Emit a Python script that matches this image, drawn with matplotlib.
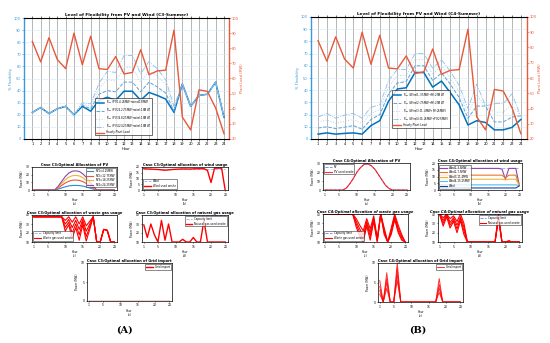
import numpy as np
import matplotlib.pyplot as plt

hours = np.arange(1, 25)

# ---- main charts: flexibility (%) and hourly plant load (MW)
plant_load = [84.5, 71, 87, 72.5, 66.5, 90, 69, 88, 66.5, 66, 74.5, 63, 64, 79,
              62.5, 65, 65.5, 92, 34.5, 26, 52.5, 51.5, 40.5, 23.5]

flex_c3_1 = [22, 26, 21, 25, 27, 20, 27, 23, 32, 34.5, 32, 39.5, 39.5, 32, 38.5, 36,
             33, 22, 45.5, 27, 36, 37, 47, 18]
flex_c3_2 = [22, 26, 21, 25, 27, 20, 28, 25, 37, 40, 39, 47, 47, 39, 47, 43,
             38, 23, 45.5, 27, 36, 37, 47, 18]
flex_c3_3 = [22, 26, 21, 25, 27, 20, 29, 27, 42, 49, 48, 59, 59, 47, 56, 52,
             45, 25, 45.5, 27, 36, 37, 47, 18]
flex_c3_4 = [22, 26, 21, 25, 27, 20, 30, 29, 46, 56, 55, 69, 69, 54, 64, 58,
             49, 27, 45.5, 27, 36, 37, 47, 18]
labels_c3 = ["P$_{flex}$ (PV1:4.25MW+wind:18MW)", "P$_{flex}$ (PV2:12.75MW+wind:18MW)",
             "P$_{flex}$ (PV3:18.25MW+wind:18MW)", "P$_{flex}$ (PV4:24.25MW+wind:18MW)"]

flex_c4_1 = [4, 5, 4, 4.6, 5, 4, 11, 15, 31, 41, 42, 54.5, 54.5, 42.5, 47.5, 38,
             28, 11.5, 15, 13.5, 7.5, 7.5, 9.5, 16]
flex_c4_2 = [9, 10, 8.5, 9.7, 11, 8, 16, 20, 37, 46, 47, 60, 60, 48, 54, 45,
             34, 17, 27, 27, 14, 14, 18, 19]
flex_c4_3 = [14, 15.5, 13, 14.5, 16, 12.5, 21, 24, 43, 52, 52, 65, 65, 53, 60, 50,
             39, 21, 36, 27, 22, 22, 28, 19]
flex_c4_4 = [18, 21, 17, 19.5, 21, 17, 26, 28, 48, 57, 57, 70, 70, 58, 65, 55.5,
             44, 25, 45, 27, 29, 29, 37, 18.5]
labels_c4 = ["P$_{flex}$ (Wind1:3.5MW+PV:25MW)", "P$_{flex}$ (Wind2:7.5MW+PV:25MW)",
             "P$_{flex}$ (Wind3:11.4MW+PV:25MW)", "P$_{flex}$ (Wind4:15.25MW+PV:25MW)"]

# ---- case C3 small panels
pv_c3_1 = [0, 0, 0, 0, 0, 0, 0, 1.2, 2.7, 4.2, 5.3, 5.9, 6, 5.8, 5.1, 4, 2.6, 1.2, 0, 0, 0, 0, 0, 0]
pv_c3_2 = [0, 0, 0, 0, 0, 0, 0, 2.6, 5.9, 9.1, 11.4, 12.7, 13, 12.6, 11, 8.7, 5.6, 2.6, 0, 0, 0, 0, 0, 0]
pv_c3_3 = [0, 0, 0, 0, 0, 0, 0, 3.8, 8.6, 13.3, 16.7, 18.6, 19, 18.4, 16.2, 12.7, 8.2, 3.8, 0, 0, 0, 0, 0, 0]
pv_c3_4 = [0, 0, 0, 0, 0, 0, 0, 5, 11.3, 17.5, 22, 24.5, 25, 24.2, 21.2, 16.7, 10.8, 5, 0, 0, 0, 0, 0, 0]
pv_c3_labels = ["PV1=4.25MW", "PV2=12.75MW", "PV3=18.25MW", "PV4=24.25MW"]

wind_c3 = [18] * 24
wind_used_c3 = [18.5, 18.3, 18.2, 18, 17.8, 17.5, 17.2, 17.5, 17.8, 18, 18.2, 18.3, 18.3,
                18.2, 18.4, 18.5, 18.5, 18.6, 17, 6.5, 19, 19, 19, 0]

gas_cap = [40] * 24
waste_c3_1 = [38, 38, 38, 38, 38, 38, 38, 38, 38, 34, 38, 32, 38, 30, 38, 28, 33, 38, 10, 10, 24, 23, 10, 10]
waste_c3_2 = [38, 38, 38, 38, 38, 38, 38, 38, 38, 30, 35, 26, 34, 24, 35, 22, 30, 38, 10, 10, 24, 23, 10, 10]
waste_c3_3 = [38, 38, 38, 38, 38, 38, 38, 38, 38, 26, 32, 20, 30, 18, 32, 16, 27, 38, 10, 10, 24, 23, 10, 10]
waste_c3_4 = [38, 38, 38, 38, 38, 38, 38, 38, 38, 22, 29, 14, 26, 12, 29, 11, 24, 38, 10, 10, 24, 23, 10, 10]

natgas_c3 = [29, 15, 30, 18, 10, 34, 12, 30, 10, 10, 10, 13, 10, 10, 15, 10, 10, 34,
             10, 10, 10, 10, 10, 10]
grid_c3 = [0] * 24

# ---- case C4 small panels
pv_c4 = [0, 0, 0, 0, 0, 0, 2, 7, 13, 20, 25, 28.5, 29, 27, 23, 17, 11, 5, 1.5, 0, 0, 0, 0, 0]

wind_c4_cap = [16.5] * 24
wind_c4_1 = [1.5] * 23 + [3]
wind_c4_2 = [3.8] * 23 + [3.3]
wind_c4_3 = [8, 8, 8, 8, 8, 8, 8, 8, 8, 8, 8, 8, 8, 8, 8, 8, 8, 8, 8, 7.5, 8, 8, 8, 3.5]
wind_c4_4 = [11, 11, 11, 11, 11, 11, 11, 11, 11, 11, 11, 11, 11, 11, 11, 11, 11, 11, 11, 9, 11, 11, 11, 3.5]
wind_c4_5 = [16, 16, 16, 16, 16, 16, 16, 16, 16, 16, 16, 16, 16, 16, 16, 16, 16, 16, 15.5, 8, 16, 16, 16, 4]
wind_c4_labels = ["Wind1-3.5MW", "Wind2-7.5MW", "Wind3-11.4MW", "Wind4-15.25MW", "Wind"]

waste_c4_1 = [40, 40, 40, 40, 40, 40, 40, 40, 40, 35, 28, 22, 35, 24, 38, 14, 40, 25, 10, 25, 40, 28, 18, 10]
waste_c4_2 = [40, 40, 40, 40, 40, 40, 40, 40, 40, 32, 24, 17, 32, 20, 36, 12, 40, 22, 10, 22, 38, 25, 16, 10]
waste_c4_3 = [40, 40, 40, 40, 40, 40, 40, 40, 40, 29, 20, 13, 30, 16, 34, 11, 40, 20, 10, 20, 36, 22, 14, 10]
waste_c4_4 = [40, 40, 40, 40, 40, 40, 40, 40, 40, 26, 16, 10, 27, 12, 32, 10, 40, 18, 10, 18, 34, 20, 12, 10]

natgas_c4_1 = [40, 36, 40, 35, 38, 32, 40, 30, 10, 10, 10, 10, 10, 10, 10, 10, 10, 40, 10, 10, 11, 10, 10, 10]
natgas_c4_2 = [40, 33, 40, 31, 36, 28, 37, 26, 10, 10, 10, 10, 10, 10, 10, 10, 10, 38, 10, 10, 11, 10, 10, 10]
natgas_c4_3 = [40, 30, 39, 28, 34, 24, 35, 22, 10, 10, 10, 10, 10, 10, 10, 10, 10, 36, 10, 10, 11, 10, 10, 10]
natgas_c4_4 = [39, 27, 37, 25, 32, 20, 33, 18, 10, 10, 10, 10, 10, 10, 10, 10, 10, 34, 10, 10, 11, 10, 10, 10]

grid_c4_1 = [5.5, 0, 7.5, 0, 0, 10, 0, 0, 0, 0, 0, 0, 0, 0, 0, 0, 0, 6, 0, 0, 0, 0, 0, 0]
grid_c4_2 = [4, 0, 6, 0, 0, 8.5, 0, 0, 0, 0, 0, 0, 0, 0, 0, 0, 0, 4.5, 0, 0, 0, 0, 0, 0]
grid_c4_3 = [3, 0, 5, 0, 0, 7, 0, 0, 0, 0, 0, 0, 0, 0, 0, 0, 0, 3.5, 0, 0, 0, 0, 0, 0]
grid_c4_4 = [2, 0, 3.5, 0, 0, 5.5, 0, 0, 0, 0, 0, 0, 0, 0, 0, 0, 0, 2.5, 0, 0, 0, 0, 0, 0]

W, H = 550, 343
BLUE = '#0072BD'
ORANGE = '#E8583A'
FS = 2.6

fig = plt.figure(figsize=(5.5, 3.43), dpi=100)


def box(x0, y0, x1, y1):
    # pixel box -> figure fraction rect
    return fig.add_axes([x0 / W, 1 - y1 / H, (x1 - x0) / W, (y1 - y0) / H])


def main_chart(rect, flex, labels, title, xlim, legpos):
    ax = box(*rect)
    styles = [dict(color=BLUE, lw=1.1, ls='-'),
              dict(color='#5AA3DC', lw=0.7, ls='--'),
              dict(color='#B3D4F0', lw=0.7, ls=':'),
              dict(color='#8DBDE8', lw=0.6, ls='-.')]
    handles = []
    for vals, lab, st in zip(flex, labels, styles):
        h, = ax.plot(hours, vals, label=lab, **st)
        handles.append(h)
    ax.set_ylim(0, 100)
    ax.set_xlim(*xlim)
    ax.set_yticks(np.arange(0, 101, 10))
    ax.set_xticks(hours)
    ax.tick_params(labelsize=FS, length=1.2, width=0.4, pad=1, top=True)
    ax.tick_params(axis='y', colors='#3A9AD9')
    ax.grid(True, axis='x', color='#9a9a9a', lw=0.5)
    ax.grid(True, axis='y', color='#d5e6f3', lw=0.4)
    ax.set_ylabel('% Flexibility', fontsize=FS, color='#3A9AD9', labelpad=1)
    ax.set_xlabel('Hour', fontsize=FS, labelpad=1)
    ax.set_title(title, fontsize=3.1, fontweight='bold', pad=1.5)
    ax.spines['left'].set_color('#3A9AD9')
    ax.spines['left'].set_linewidth(1.0)
    ax.spines['right'].set_visible(False)
    for s in ('top', 'bottom'):
        ax.spines[s].set_linewidth(0.4)
    ax2 = ax.twinx()
    h, = ax2.plot(hours, plant_load, color=ORANGE, lw=1.0, label='Hourly Plant Load')
    handles.append(h)
    ax2.set_ylim(20, 100)
    ax2.set_yticks(np.arange(20, 101, 10))
    ax2.tick_params(labelsize=FS, length=1.2, width=0.4, pad=1, colors=ORANGE)
    ax2.set_ylabel('Plant Load (MW)', fontsize=FS, color=ORANGE, labelpad=1)
    ax2.spines['right'].set_color(ORANGE)
    ax2.spines['right'].set_linewidth(1.0)
    ax2.spines['left'].set_visible(False)
    leg = ax2.legend(handles=handles, fontsize=1.9, loc='lower left', bbox_to_anchor=legpos,
                     frameon=True, fancybox=False, edgecolor='black', handlelength=3,
                     borderpad=0.3, labelspacing=0.15)
    leg.get_frame().set_linewidth(0.5)


def small(rect, title, ylim, yticks, letter, italic=False):
    ax = box(*rect)
    ax.set_xlim(0.5, 24.8)
    ax.set_ylim(*ylim)
    ax.set_xticks([1, 5, 10, 15, 20, 24])
    ax.set_yticks(yticks)
    ax.tick_params(labelsize=2.2, length=1, width=0.4, pad=0.8)
    for s in ax.spines.values():
        s.set_linewidth(0.5)
    ax.set_title(title, fontsize=2.6, fontweight='bold', pad=1,
                 style='italic' if italic else 'normal')
    ax.set_ylabel('Power (MW)', fontsize=2.0, labelpad=1)
    ax.set_xlabel('Hour\n' + letter, fontsize=2.0, labelpad=0.8)
    return ax


def small_legend(ax, loc):
    leg = ax.legend(fontsize=1.9, loc=loc, frameon=True, fancybox=False, edgecolor='black',
                    handlelength=2.5, borderpad=0.3, labelspacing=0.2)
    leg.get_frame().set_linewidth(0.4)


main_chart((24, 18, 229, 139), [flex_c3_1, flex_c3_2, flex_c3_3, flex_c3_4], labels_c3,
           'Level of Flexibility from PV and Wind (C3-Summer)', (0.0, 24.6), (0.34, 0.02))
main_chart((311, 17, 527, 139), [flex_c4_1, flex_c4_2, flex_c4_3, flex_c4_4], labels_c4,
           'Level of Flexibility from PV and Wind (C4-Summer)', (0.2, 24.7), (0.37, 0.08))

# ---- C3 panels
ax = small((32, 167, 117, 190), 'Case C3:Optimal Allocation of PV', (0, 30), [0, 10, 20, 30], '(a)')
for vals, lab, c in zip([pv_c3_1, pv_c3_2, pv_c3_3, pv_c3_4], pv_c3_labels,
                        ['#2E8BD0', '#E8583A', '#F2B134', '#8E44AD']):
    ax.plot(hours, vals, color=c, lw=0.8, label=lab)
small_legend(ax, 'upper right')

ax = small((142, 167, 228, 190), 'Case C3:Optimal allocation of wind usage', (0, 20), [0, 5, 10, 15, 20], '(b)')
ax.plot(hours, wind_c3, color='#9FA8F0', lw=0.6, ls='--', label='Wind')
ax.plot(hours, wind_used_c3, color='red', lw=1.0, label='Wind used onsite')
small_legend(ax, 'lower left')

ax = small((32, 215, 117, 242), 'Case C3:Optimal allocation of waste gas usage', (10, 40), [10, 20, 30, 40], '(c)')
ax.plot(hours, gas_cap, color='#9FA8F0', lw=0.6, ls='--', label='Capacity limit')
for i, vals in enumerate([waste_c3_1, waste_c3_2, waste_c3_3, waste_c3_4]):
    ax.plot(hours, vals, color='red', lw=0.8, label='Waste gas used onsite' if i == 0 else None)
small_legend(ax, 'lower left')

ax = small((142, 215, 228, 242), 'Case C3:Optimal allocation of natural gas usage', (10, 40), [10, 20, 30, 40], '(d)')
ax.plot(hours, gas_cap, color='#9FA8F0', lw=0.6, ls='--', label='Capacity limit')
ax.plot(hours, natgas_c3, color='red', lw=1.0, label='Natural gas used onsite')
small_legend(ax, 'upper right')

ax = small((87, 263, 172, 301), 'Case C3:Optimal allocation of Grid import', (0, 10), [0, 5, 10], '(e)')
ax.plot(hours, grid_c3, color='red', lw=1.0, label='Grid import')
small_legend(ax, 'upper right')

# ---- C4 panels
ax = small((323, 163, 410, 190), 'Case C4:Optimal Allocation of PV', (0, 30), [0, 10, 20, 30], '(a)')
ax.plot(hours, pv_c4, color='#6C7FE0', lw=0.6, ls='--', label='PV')
ax.plot(hours, pv_c4, color='red', lw=0.8, alpha=0.8, label='PV used onsite')
small_legend(ax, 'upper left')

ax = small((438, 163, 522, 190), 'Case C4:Optimal allocation of wind usage', (0, 20), [0, 5, 10, 15, 20], '(b)')
ax.plot(hours, wind_c4_cap, color='#9FA8F0', lw=0.6, ls='--')
for vals, lab, c in zip([wind_c4_5, wind_c4_4, wind_c4_3, wind_c4_2, wind_c4_1], wind_c4_labels,
                        ['#8E44AD', '#E8742A', '#F2B134', '#4DBEEE', '#1F3F9F']):
    ax.plot(hours, vals, color=c, lw=0.8, label=lab)
small_legend(ax, 'lower left')

ax = small((323, 214, 408, 242), 'Case C4:Optimal allocation of waste gas usage', (10, 40), [10, 20, 30, 40], '(c)', True)
ax.plot(hours, gas_cap, color='#6C7FE0', lw=0.6, ls='--', label='Capacity limit')
for i, vals in enumerate([waste_c4_1, waste_c4_2, waste_c4_3, waste_c4_4]):
    ax.plot(hours, vals, color='red', lw=0.8, label='Waste gas used onsite' if i == 0 else None)
small_legend(ax, 'lower left')

ax = small((438, 214, 522, 242), 'Case C4:Optimal allocation of natural gas usage', (10, 40), [10, 20, 30, 40], '(d)', True)
ax.plot(hours, gas_cap, color='#6C7FE0', lw=0.6, ls='--', label='Capacity limit')
for i, vals in enumerate([natgas_c4_1, natgas_c4_2, natgas_c4_3, natgas_c4_4]):
    ax.plot(hours, vals, color='red', lw=0.8, label='Natural gas used onsite' if i == 0 else None)
small_legend(ax, 'upper right')

ax = small((378, 263, 463, 302), 'Case C4:Optimal allocation of Grid import', (0, 10), [0, 5, 10], '(e)')
for i, vals in enumerate([grid_c4_1, grid_c4_2, grid_c4_3, grid_c4_4]):
    ax.plot(hours, vals, color='red', lw=0.7, alpha=0.8, label='Grid import' if i == 0 else None)
small_legend(ax, 'upper right')

fig.text(124 / W, 1 - 330 / H, '(A)', fontsize=7, fontweight='bold', family='DejaVu Serif',
         ha='center', va='center')
fig.text(418 / W, 1 - 330 / H, '(B)', fontsize=7, fontweight='bold', family='DejaVu Serif',
         ha='center', va='center')

fig.savefig('out.png', dpi=100, facecolor='white')
